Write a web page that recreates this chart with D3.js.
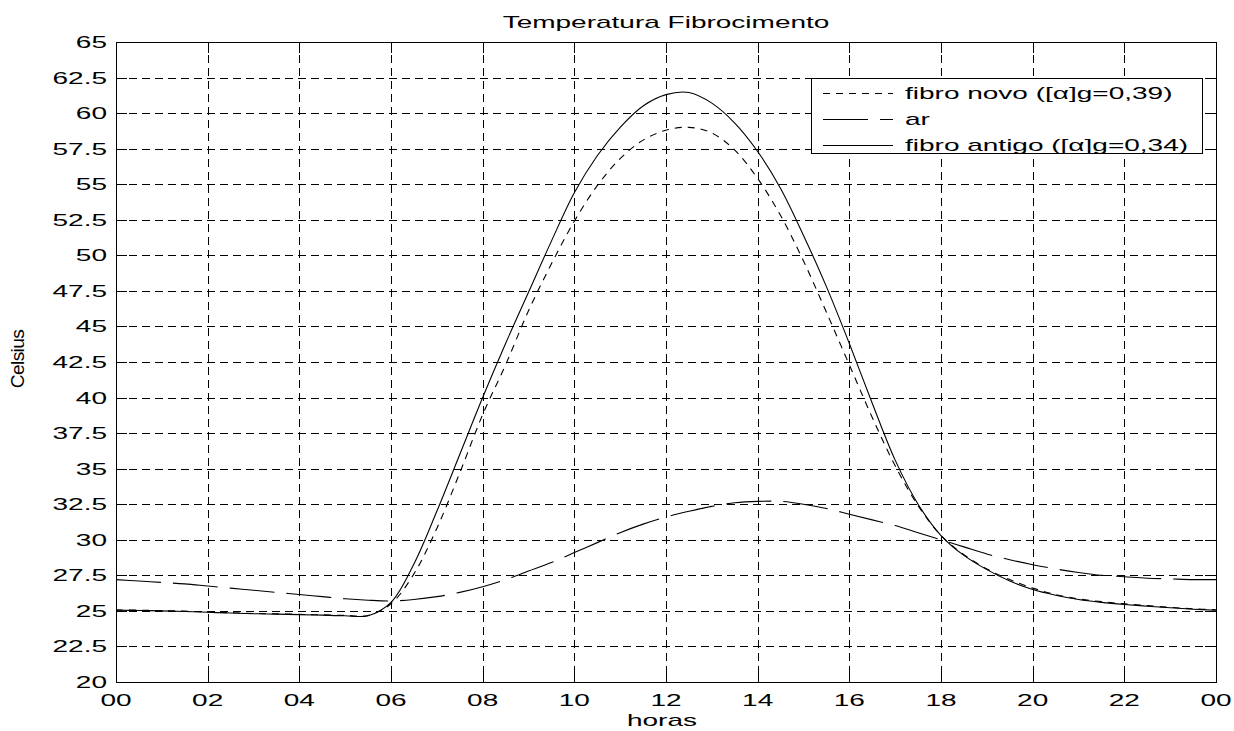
<!DOCTYPE html>
<html><head><meta charset="utf-8">
<script src="https://cdn.jsdelivr.net/npm/d3@7"></script>
<style>html,body{margin:0;padding:0;background:#fff;} svg{display:block;font-family:"Liberation Sans",Arial,Helvetica,sans-serif;}</style>
</head><body><svg id="c" width="1234" height="731"></svg>
<script>
const hours = [0,0.5,1,1.5,2,2.5,3,3.5,4,4.5,5,5.5,6,6.5,7,7.5,8,8.5,9,9.5,10,10.5,11,11.5,12,12.5,13,13.5,14,14.5,15,15.5,16,16.5,17,17.5,18,18.5,19,19.5,20,20.5,21,21.5,22,22.5,23,23.5,24];
const fibroNovo = [25.07,25.05,25.02,24.98,24.92,24.87,24.82,24.79,24.76,24.72,24.68,24.68,25.5,27.6,30.8,34.7,38.8,42.3,46.1,49.4,52.4,54.9,56.8,58.1,58.8,59.0,58.6,57.4,55.4,52.8,49.6,46.0,42.3,38.6,35.2,32.4,30.3,28.95,27.95,27.2,26.6,26.15,25.85,25.65,25.5,25.37,25.25,25.15,25.08];
const ar = [27.2,27.1,27.0,26.9,26.75,26.6,26.45,26.3,26.15,26.0,25.85,25.75,25.7,25.8,26.0,26.3,26.7,27.2,27.8,28.4,29.1,29.8,30.5,31.1,31.6,32.0,32.35,32.6,32.7,32.7,32.5,32.2,31.8,31.4,31.0,30.5,30.0,29.5,29.0,28.6,28.25,27.95,27.7,27.5,27.4,27.3,27.25,27.2,27.2];
const fibroAntigo = [25.05,25.03,25.0,24.96,24.9,24.85,24.8,24.77,24.74,24.7,24.66,24.66,25.6,28.3,32.0,36.0,40.0,43.8,47.4,51.0,54.4,57.0,59.0,60.5,61.3,61.45,60.7,59.3,57.3,54.7,51.4,47.8,43.8,39.6,35.6,32.5,30.3,28.9,27.9,27.1,26.5,26.1,25.8,25.6,25.45,25.33,25.22,25.12,25.05];
const xTickValues = [0,2,4,6,8,10,12,14,16,18,20,22,24];
const xTickLabels = ["00","02","04","06","08","10","12","14","16","18","20","22","00"];
const yTickValues = [20,22.5,25,27.5,30,32.5,35,37.5,40,42.5,45,47.5,50,52.5,55,57.5,60,62.5,65];
const yTickLabels = ["20","22.5","25","27.5","30","32.5","35","37.5","40","42.5","45","47.5","50","52.5","55","57.5","60","62.5","65"];
const seriesNames = ["fibro novo ([\u03b1]g=0,39)","ar","fibro antigo ([\u03b1]g=0,34)"];
const titleText = "Temperatura Fibrocimento";
const xLabelText = "horas";
const yLabelText = "Celsius";

const m = {l:116, r:1216, t:42, b:682};
const SX = 1.75, FS = 16;
const x = d3.scaleLinear().domain([0,24]).range([m.l,m.r]);
const y = d3.scaleLinear().domain([20,65]).range([m.b,m.t]);
const svg = d3.select("#c");

// grid
const grid = svg.append("g").attr("stroke","#000").attr("stroke-width",1)
  .attr("stroke-dasharray","8,5").attr("shape-rendering","crispEdges");
grid.selectAll("line.v").data(xTickValues.slice(1,-1)).join("line")
  .attr("x1",d=>Math.round(x(d))+0.5).attr("x2",d=>Math.round(x(d))+0.5)
  .attr("y1",m.t).attr("y2",m.b);
grid.selectAll("line.h").data(yTickValues.slice(1,-1)).join("line")
  .attr("y1",d=>Math.round(y(d))+0.5).attr("y2",d=>Math.round(y(d))+0.5)
  .attr("x1",m.l).attr("x2",m.r);

// curves
svg.append("clipPath").attr("id","pc").append("rect")
  .attr("x",m.l).attr("y",m.t).attr("width",m.r-m.l).attr("height",m.b-m.t);
const line = d3.line().x((d,i)=>x(hours[i])).y(d=>y(d)).curve(d3.curveCatmullRom.alpha(0.5));
const series = [
  {name:seriesNames[0], values:fibroNovo, dash:"7,6"},
  {name:seriesNames[1], values:ar, dash:"45,12"},
  {name:seriesNames[2], values:fibroAntigo, dash:null}
];
const cg = svg.append("g").attr("clip-path","url(#pc)");
series.forEach(s=>{
  cg.append("path").attr("d",line(s.values)).attr("fill","none")
    .attr("stroke","#000").attr("stroke-width",1.1)
    .attr("stroke-dasharray",s.dash);
});

// axes with inward ticks
const ax = svg.append("g").attr("shape-rendering","crispEdges");
const fmtNone = ()=>"";
ax.append("g").attr("transform",`translate(0,${m.b})`)
  .call(d3.axisBottom(x).tickValues(xTickValues).tickSizeInner(-11).tickSizeOuter(0).tickFormat(fmtNone));
ax.append("g").attr("transform",`translate(0,${m.t})`)
  .call(d3.axisTop(x).tickValues(xTickValues).tickSizeInner(-11).tickSizeOuter(0).tickFormat(fmtNone));
ax.append("g").attr("transform",`translate(${m.l},0)`)
  .call(d3.axisLeft(y).tickValues(yTickValues).tickSizeInner(-11).tickSizeOuter(0).tickFormat(fmtNone));
ax.append("g").attr("transform",`translate(${m.r},0)`)
  .call(d3.axisRight(y).tickValues(yTickValues).tickSizeInner(-11).tickSizeOuter(0).tickFormat(fmtNone));
ax.selectAll(".domain").attr("stroke","#000").attr("stroke-width",1.2);
ax.selectAll(".tick line").attr("stroke","#000");

// text helper (horizontally stretched text)
function txt(tx,ty,s,anchor){
  return svg.append("text").attr("transform",`translate(${tx},${ty}) scale(${SX},1)`)
    .attr("text-anchor",anchor).attr("font-size",FS).attr("fill","#000").text(s);
}
yTickValues.forEach((v,i)=>txt(107, y(v)+6, yTickLabels[i], "end"));
xTickValues.forEach((v,i)=>txt(x(v), 706, xTickLabels[i], "middle"));
txt((m.l+m.r)/2, 28, titleText, "middle");
txt(662, 726, xLabelText, "middle");
svg.append("text").attr("transform",`translate(24,359) rotate(-90) scale(1.2,1.13)`)
  .attr("text-anchor","middle").attr("font-size",FS).attr("letter-spacing","-0.5").text(yLabelText);

// legend
const lg = svg.append("g");
lg.append("rect").attr("x",811.5).attr("y",78.5).attr("width",391).attr("height",75)
  .attr("fill","#fff").attr("stroke","#000").attr("stroke-width",1);
const rowsY = [93,119,145];
series.forEach((s,i)=>{
  lg.append("line").attr("x1",823).attr("x2",893).attr("y1",rowsY[i]+0.5).attr("y2",rowsY[i]+0.5)
    .attr("stroke","#000").attr("stroke-width",1.1).attr("stroke-dasharray",s.dash);
  lg.append("text").attr("transform",`translate(905,${rowsY[i]+6}) scale(${SX},1)`)
    .attr("font-size",FS).text(s.name);
});
</script></body></html>
